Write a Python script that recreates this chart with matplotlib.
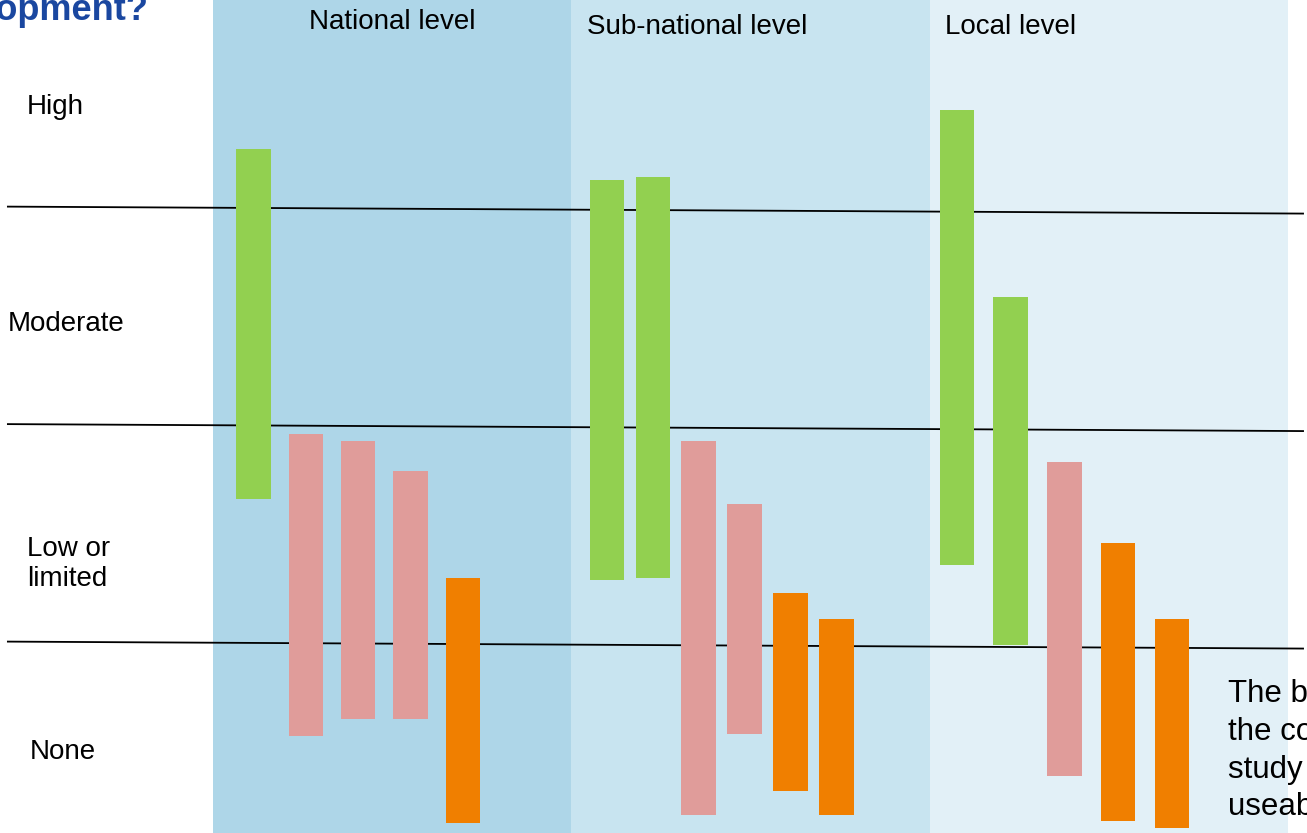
import matplotlib.pyplot as plt
from matplotlib.patches import Rectangle

plt.rcParams['font.family'] = ['Liberation Sans', 'DejaVu Sans']

# rating levels: 0 = None, 1 = Low or limited, 2 = Moderate, 3 = High (band edges at 1, 2, 3)
levels = ["High", "Moderate", "Low or\nlimited", "None"]
panels = ["National level", "Sub-national level", "Local level"]

# each bar: (bottom, top) on the rating scale, per panel
green_bars = [
    [(1.67, 3.28)],
    [(1.30, 3.14), (1.31, 3.15)],
    [(1.37, 3.46), (1.00, 2.60)],
]
pink_bars = [
    [(0.58, 1.97), (0.66, 1.94), (0.66, 1.80)],
    [(0.22, 1.94), (0.59, 1.65)],
    [(0.40, 1.84)],
]
orange_bars = [
    [(0.18, 1.31)],
    [(0.33, 1.24), (0.22, 1.12)],
    [(0.19, 1.47), (0.16, 1.12)],
]

panel_colors = ["#AED6E8", "#C8E4F0", "#E2F0F7"]
bar_colors = {"green": "#92D050", "pink": "#E09C9A", "orange": "#F07F00"}

# layout of the bar slots inside each panel
first_slot = [0.113, 0.099, 0.075]
slot_step = [0.146, 0.128, 0.150]
bar_w = 0.096

W, H = 1307, 833
fig = plt.figure(figsize=(W / 100, H / 100), dpi=100)
ax = fig.add_axes([0, 0, 1, 1])
ax.set_xlim(-0.594, 3.052)
ax.set_ylim(0.136, 3.966)
ax.axis("off")

for i, c in enumerate(panel_colors):
    ax.add_patch(Rectangle((i, 0.136), 1, 3.83, color=c, lw=0, zorder=0))

# slightly tilted boundary lines
for b in [1, 2, 3]:
    ax.plot([-0.572, 3.041], [b + 0.016, b - 0.016], color="black", lw=1.3, zorder=1)

for p in range(3):
    slot = 0
    for kind, groups in [("green", green_bars), ("pink", pink_bars), ("orange", orange_bars)]:
        for lo, hi in groups[p]:
            x = p + first_slot[p] + slot * slot_step[p]
            ax.bar(x, hi - lo, bottom=lo, width=bar_w, color=bar_colors[kind], lw=0, zorder=2)
            slot += 1


def px(x, y):
    return x / W, 1 - y / H


fs = 20
for name, (x, y) in zip(panels, [(309, 22), (587, 27), (945, 27)]):
    fig.text(*px(x, y), name, fontsize=fs, ha="left", va="center")

for name, (x, y) in zip(levels, [(27, 107), (8, 324), (27, 564), (30, 752)]):
    fig.text(*px(x, y), name, fontsize=fs, ha="left", va="center", linespacing=1.25)

fig.text(*px(149, 11), "Development?", fontsize=26, fontweight="bold",
         color="#1A47A0", ha="right", va="center")

fig.text(*px(1228, 679), "The bars show\nthe country\nstudy results\nuseable", fontsize=22.5,
         ha="left", va="top", linespacing=1.34)

fig.savefig("out.png", dpi=100)
